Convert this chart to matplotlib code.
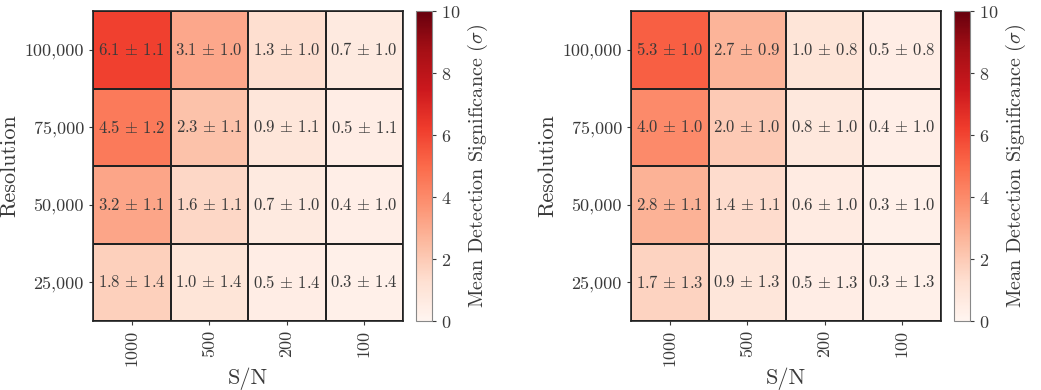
import numpy as np
import matplotlib
matplotlib.use("Agg")
import matplotlib.pyplot as plt

plt.rcParams['font.family'] = ['cmr10', 'DejaVu Serif']
plt.rcParams['mathtext.fontset'] = 'cm'
plt.rcParams['axes.formatter.use_mathtext'] = True

resolutions = ["100,000", "75,000", "50,000", "25,000"]
snr = ["1000", "500", "200", "100"]

# mean significance and spread, rows = resolution (top to bottom), cols = S/N
mean_a = np.array([[6.1, 3.1, 1.3, 0.7],
                   [4.5, 2.3, 0.9, 0.5],
                   [3.2, 1.6, 0.7, 0.4],
                   [1.8, 1.0, 0.5, 0.3]])
std_a = np.array([[1.1, 1.0, 1.0, 1.0],
                  [1.2, 1.1, 1.1, 1.1],
                  [1.1, 1.1, 1.0, 1.0],
                  [1.4, 1.4, 1.4, 1.4]])

mean_b = np.array([[5.3, 2.7, 1.0, 0.5],
                   [4.0, 2.0, 0.8, 0.4],
                   [2.8, 1.4, 0.6, 0.3],
                   [1.7, 0.9, 0.5, 0.3]])
std_b = np.array([[1.0, 0.9, 0.8, 0.8],
                  [1.0, 1.0, 1.0, 1.0],
                  [1.1, 1.1, 1.0, 1.0],
                  [1.3, 1.3, 1.3, 1.3]])

txt = '#3a3a3a'

fig = plt.figure(figsize=(10.41, 3.9), dpi=100)
W, H = 1041, 390


def panel(x0, mean, std):
    ax = fig.add_axes([x0 / W, 1 - 321 / H, 310 / W, 310 / H])
    cax = fig.add_axes([(x0 + 323) / W, 1 - 321 / H, 16 / W, 310 / H])
    mesh = ax.pcolormesh(mean, cmap='Reds', vmin=0, vmax=10,
                         edgecolors='#222222', linewidth=1.2)
    ax.set_ylim(len(resolutions), 0)
    for i in range(mean.shape[0]):
        for j in range(mean.shape[1]):
            ax.text(j + 0.5, i + 0.5, f"${mean[i, j]:.1f}\\,\\pm\\,{std[i, j]:.1f}$",
                    ha='center', va='center', fontsize=12, color=txt)
    ax.set_xticks(np.arange(len(snr)) + 0.5)
    ax.set_xticklabels(snr, rotation=90, fontsize=13, color=txt)
    ax.set_yticks(np.arange(len(resolutions)) + 0.5)
    ax.set_yticklabels(resolutions, fontsize=13, color=txt)
    ax.tick_params(length=3, color=txt)
    ax.set_xlabel('S/N', fontsize=16, color=txt, labelpad=1)
    ax.set_ylabel('Resolution', fontsize=16, color=txt)
    for s in ax.spines.values():
        s.set_color('#222222')
        s.set_linewidth(1.2)
    cb = fig.colorbar(mesh, cax=cax)
    cb.set_ticks([0, 2, 4, 6, 8, 10])
    cb.ax.tick_params(labelsize=13, colors=txt, length=3)
    cb.outline.set_edgecolor('#888888')
    cb.outline.set_linewidth(0.8)
    cb.set_label(r'Mean Detection Significance ($\sigma$)', fontsize=14.5, color=txt)


panel(93, mean_a, std_a)
panel(631, mean_b, std_b)

fig.savefig('out.png', dpi=100)
